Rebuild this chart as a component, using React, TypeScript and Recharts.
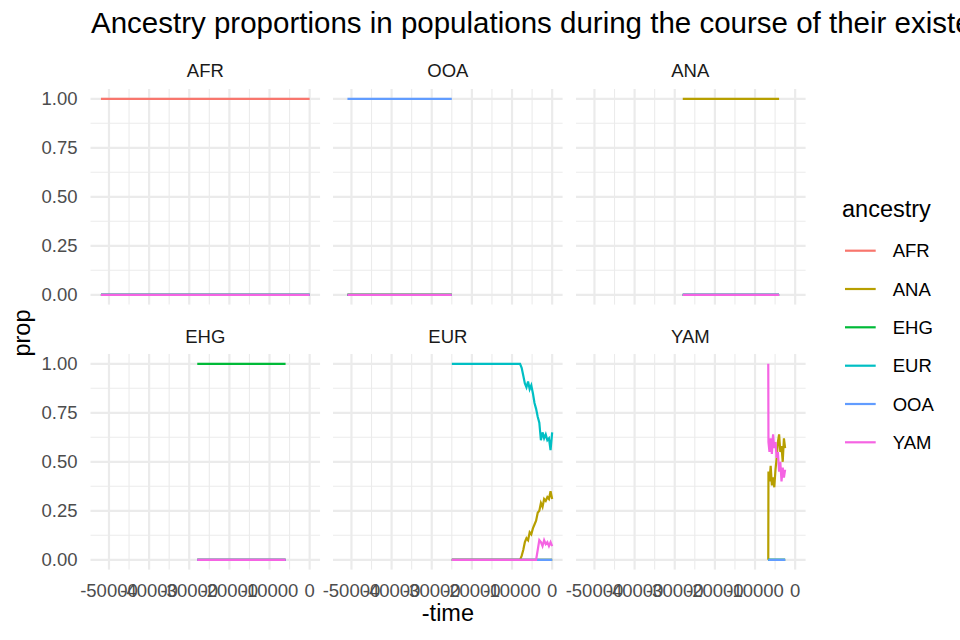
import React from 'react';
import { LineChart, Line, XAxis, YAxis, CartesianGrid } from 'recharts';

const ANCESTRIES = ['AFR', 'ANA', 'EHG', 'EUR', 'OOA', 'YAM'];
const COLORS: Record<string, string> = {
  AFR: '#F8766D',
  ANA: '#B79F00',
  EHG: '#00BA38',
  EUR: '#00BFC4',
  OOA: '#619CFF',
  YAM: '#F564E3',
};

const X_TICKS = [-50000, -40000, -30000, -20000, -10000, 0];
const X_MINOR = [-45000, -35000, -25000, -15000, -5000];
const Y_TICKS = [0, 0.25, 0.5, 0.75, 1];
const Y_MINOR = [0.125, 0.375, 0.625, 0.875];

// AFR population
const afrTime = [-52000, 0];
const afrOwn = [1, 1];
const afrZero = [0, 0];

// OOA population
const ooaTime = [-51000, -25000];
const ooaOwn = [1, 1];
const ooaZero = [0, 0];

// ANA population
const anaTime = [-28000, -4000];
const anaOwn = [1, 1];
const anaZero = [0, 0];

// EHG population
const ehgTime = [-28000, -6000];
const ehgOwn = [1, 1];
const ehgZero = [0, 0];

// EUR population
const eurTime = [-25000, -8000, -7600, -7200, -6800, -6400, -6000, -5600, -5200, -4800, -4400, -4000, -3600, -3200, -2800, -2400, -2000, -1600, -1200, -800, -400, 0];
const eurEUR = [1, 1, 0.98, 0.94, 0.9, 0.88, 0.91, 0.87, 0.89, 0.85, 0.8, 0.77, 0.73, 0.7, 0.61, 0.65, 0.62, 0.64, 0.61, 0.62, 0.56, 0.65];
const eurANA = [0, 0, 0.02, 0.05, 0.09, 0.11, 0.1, 0.14, 0.13, 0.16, 0.18, 0.2, 0.24, 0.25, 0.29, 0.27, 0.31, 0.3, 0.32, 0.31, 0.35, 0.31];
const eurYAM = [0, 0, 0, 0, 0, 0, 0, 0, 0, 0, 0, 0, 0.05, 0.1, 0.09, 0.07, 0.1, 0.08, 0.09, 0.07, 0.09, 0.07];
const eurZero = [0, 0, 0, 0, 0, 0, 0, 0, 0, 0, 0, 0, 0, 0, 0, 0, 0, 0, 0, 0, 0, 0];

// YAM population
const yamTime = [-6700, -6650, -6400, -6100, -5800, -5500, -5200, -4900, -4600, -4300, -4000, -3700, -3400, -3100, -2800, -2500];
const yamYAM = [1, 0.6, 0.55, 0.62, 0.54, 0.64, 0.57, 0.6, 0.52, 0.55, 0.45, 0.5, 0.4, 0.47, 0.42, 0.46];
const yamANA = [0, 0.45, 0.4, 0.48, 0.38, 0.42, 0.37, 0.46, 0.52, 0.6, 0.64, 0.55, 0.58, 0.5, 0.62, 0.57];
const yamZero = [0, 0, 0, 0, 0, 0, 0, 0, 0, 0, 0, 0, 0, 0, 0, 0];

const rows = (time: number[], series: Record<string, number[]>) =>
  time.map((t, i) => {
    const row: Record<string, number> = { t };
    Object.keys(series).forEach((k) => (row[k] = series[k][i]));
    return row;
  });

const panels = [
  { name: 'AFR', data: rows(afrTime, { AFR: afrOwn, ANA: afrZero, EHG: afrZero, EUR: afrZero, OOA: afrZero, YAM: afrZero }) },
  { name: 'OOA', data: rows(ooaTime, { AFR: ooaZero, ANA: ooaZero, EHG: ooaZero, EUR: ooaZero, OOA: ooaOwn, YAM: ooaZero }) },
  { name: 'ANA', data: rows(anaTime, { AFR: anaZero, ANA: anaOwn, EHG: anaZero, EUR: anaZero, OOA: anaZero, YAM: anaZero }) },
  { name: 'EHG', data: rows(ehgTime, { AFR: ehgZero, ANA: ehgZero, EHG: ehgOwn, EUR: ehgZero, OOA: ehgZero, YAM: ehgZero }) },
  { name: 'EUR', data: rows(eurTime, { AFR: eurZero, ANA: eurANA, EHG: eurZero, EUR: eurEUR, OOA: eurZero, YAM: eurYAM }) },
  { name: 'YAM', data: rows(yamTime, { AFR: yamZero, ANA: yamANA, EHG: yamZero, EUR: yamZero, OOA: yamZero, YAM: yamYAM }) },
];

const FONT = '"Liberation Sans", Arial, Helvetica, sans-serif';
const PANEL_LEFT = [90.5, 333.1, 575.5];
const PANEL_TOP = [88.5, 353.9];
const PANEL_W = 229.6;
const PANEL_H = 215.6;
const Y_AXIS_W = 90.5;
const X_AXIS_H = 50;
const SIDE = 40; // room so overlapping tick labels are not clipped

const Panel = ({ idx }: { idx: number }) => {
  const col = idx % 3;
  const row = Math.floor(idx / 3);
  const showY = col === 0;
  const showX = row === 1;
  const yW = showY ? Y_AXIS_W : 0;
  const width = PANEL_W + yW + 2 * SIDE;
  const height = PANEL_H + (showX ? X_AXIS_H : 0) + 12;
  const left = PANEL_LEFT[col] - yW - SIDE;
  return (
    <div style={{ position: 'absolute', left, top: PANEL_TOP[row] - 6 }}>
      <LineChart width={width} height={height} data={panels[idx].data} margin={{ top: 6, right: SIDE, bottom: 6, left: SIDE }}>
        <CartesianGrid stroke="#EBEBEB" strokeWidth={1.1} horizontalValues={Y_MINOR} verticalValues={X_MINOR} />
        <CartesianGrid stroke="#EBEBEB" strokeWidth={2.2} horizontalValues={Y_TICKS} verticalValues={X_TICKS} />
        <XAxis
          type="number"
          dataKey="t"
          domain={[-54600, 2600]}
          ticks={X_TICKS}
          interval={0}
          allowDataOverflow
          hide={!showX}
          height={X_AXIS_H}
          axisLine={false}
          tickLine={false}
          tickSize={0}
          tickMargin={14}
          tick={{ fill: '#4D4D4D', fontSize: 18.5, fontFamily: FONT }}
        />
        <YAxis
          type="number"
          domain={[-0.05, 1.05]}
          ticks={Y_TICKS}
          interval={0}
          allowDataOverflow
          hide={!showY}
          width={Y_AXIS_W}
          axisLine={false}
          tickLine={false}
          tickSize={0}
          tickMargin={13}
          tickFormatter={(v: number) => v.toFixed(2)}
          tick={{ fill: '#4D4D4D', fontSize: 18.5, fontFamily: FONT }}
        />
        {ANCESTRIES.map((a) => (
          <Line
            key={a}
            type="linear"
            dataKey={a}
            stroke={COLORS[a]}
            strokeWidth={2.2}
            dot={false}
            activeDot={false}
            isAnimationActive={false}
          />
        ))}
      </LineChart>
    </div>
  );
};

const LEGEND_Y = [250.7, 289, 327.3, 365.7, 404, 442.3];

export default function App() {
  return (
    <div style={{ position: 'absolute', left: 0, top: 0, width: 960, height: 640, background: '#fff', overflow: 'hidden' }}>
      {panels.map((p, i) => (
        <Panel key={p.name} idx={i} />
      ))}
      <svg width={960} height={640} style={{ position: 'absolute', left: 0, top: 0, pointerEvents: 'none' }} fontFamily={FONT}>
        <text x={91} y={33.3} fontSize={29.5} fill="#000">
          Ancestry proportions in populations during the course of their existence
        </text>
        {panels.map((p, i) => {
          const col = i % 3;
          const row = Math.floor(i / 3);
          return (
            <text key={p.name} x={PANEL_LEFT[col] + PANEL_W / 2} y={row === 0 ? 76.7 : 342.7} fontSize={18.5} fill="#1A1A1A" textAnchor="middle">
              {p.name}
            </text>
          );
        })}
        <text x={447.9} y={621} fontSize={23.5} textAnchor="middle" fill="#000">
          -time
        </text>
        <text x={30} y={333} fontSize={23.5} textAnchor="middle" fill="#000" transform="rotate(-90 30 333)">
          prop
        </text>
        <text x={842} y={216.7} fontSize={23.5} fill="#000">
          ancestry
        </text>
        {ANCESTRIES.map((a, i) => (
          <g key={a}>
            <line x1={845} x2={875.7} y1={LEGEND_Y[i]} y2={LEGEND_Y[i]} stroke={COLORS[a]} strokeWidth={2.2} />
            <text x={892.7} y={LEGEND_Y[i]} dy="0.355em" fontSize={18.5} fill="#000">
              {a}
            </text>
          </g>
        ))}
      </svg>
    </div>
  );
}
